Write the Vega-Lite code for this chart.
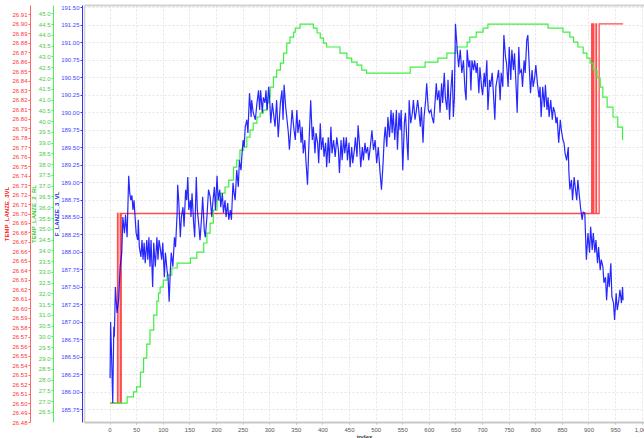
{
  "$schema": "https://vega.github.io/schema/vega-lite/v6.json",
  "autosize": {"type": "none"},
  "padding": {"left": 84, "top": 5, "right": 0, "bottom": 16},
  "width": 560,
  "height": 417,
  "background": "white",
  "config": {
    "view": {"stroke": null},
    "font": "Liberation Sans",
    "axis": {"labelFont": "Liberation Sans", "titleFont": "Liberation Sans", "labelFontSize": 6, "titleFontSize": 6, "titleFontWeight": "bold"}
  },
  "datasets": {
    "blue": [
      {"i":1,"v":186.2},{"i":2,"v":187.0},{"i":4,"v":186.46},{"i":6,"v":185.84},{"i":8,"v":186.93},{"i":9,"v":186.79},{"i":11,"v":187.5},{"i":14,"v":187.13},{"i":17,"v":187.31},{"i":19,"v":187.64},{"i":20,"v":187.79},{"i":23,"v":187.99},{"i":25,"v":188.5},{"i":28,"v":188.27},{"i":30,"v":188.53},{"i":33,"v":188.21},{"i":36,"v":189.09},{"i":38,"v":188.84},{"i":40,"v":188.74},{"i":42,"v":188.81},{"i":44,"v":188.6},{"i":46,"v":188.74},{"i":48,"v":188.5},{"i":50,"v":188.27},{"i":53,"v":188.17},{"i":54,"v":188.46},{"i":56,"v":188.07},{"i":59,"v":187.93},{"i":61,"v":188.17},{"i":63,"v":187.89},{"i":65,"v":188.13},{"i":67,"v":187.84},{"i":70,"v":188.17},{"i":72,"v":187.89},{"i":74,"v":188.21},{"i":76,"v":187.79},{"i":78,"v":188.17},{"i":81,"v":187.5},{"i":83,"v":188.13},{"i":86,"v":187.79},{"i":89,"v":188.21},{"i":91,"v":187.89},{"i":93,"v":188.17},{"i":95,"v":188.07},{"i":98,"v":187.89},{"i":100,"v":188.13},{"i":103,"v":187.64},{"i":105,"v":187.99},{"i":108,"v":187.74},{"i":110,"v":187.64},{"i":112,"v":187.29},{"i":114,"v":187.7},{"i":116,"v":187.99},{"i":119,"v":187.79},{"i":122,"v":188.21},{"i":124,"v":188.07},{"i":127,"v":188.56},{"i":128,"v":188.96},{"i":130,"v":188.74},{"i":133,"v":188.21},{"i":135,"v":188.5},{"i":138,"v":188.64},{"i":140,"v":188.36},{"i":143,"v":188.89},{"i":145,"v":188.74},{"i":147,"v":189.07},{"i":149,"v":188.6},{"i":152,"v":188.74},{"i":153,"v":188.5},{"i":155,"v":188.84},{"i":158,"v":188.41},{"i":160,"v":188.21},{"i":163,"v":189.07},{"i":165,"v":188.6},{"i":168,"v":188.36},{"i":170,"v":188.17},{"i":173,"v":188.5},{"i":175,"v":188.79},{"i":178,"v":188.31},{"i":180,"v":188.21},{"i":183,"v":188.5},{"i":186,"v":188.89},{"i":189,"v":188.79},{"i":192,"v":188.5},{"i":194,"v":188.7},{"i":197,"v":188.93},{"i":199,"v":188.6},{"i":202,"v":189.09},{"i":204,"v":188.74},{"i":207,"v":188.89},{"i":209,"v":188.64},{"i":212,"v":188.84},{"i":214,"v":188.56},{"i":217,"v":188.74},{"i":219,"v":188.5},{"i":222,"v":188.7},{"i":224,"v":188.46},{"i":227,"v":188.6},{"i":229,"v":188.46},{"i":232,"v":188.99},{"i":234,"v":188.84},{"i":236,"v":188.74},{"i":239,"v":189.17},{"i":242,"v":188.93},{"i":244,"v":189.31},{"i":247,"v":189.17},{"i":249,"v":189.41},{"i":251,"v":189.6},{"i":253,"v":189.5},{"i":255,"v":189.79},{"i":258,"v":189.89},{"i":260,"v":189.7},{"i":263,"v":190.27},{"i":266,"v":189.93},{"i":267,"v":190.17},{"i":270,"v":189.99},{"i":274,"v":189.89},{"i":277,"v":190.13},{"i":280,"v":190.31},{"i":282,"v":190.03},{"i":284,"v":190.31},{"i":287,"v":189.99},{"i":289,"v":190.21},{"i":292,"v":190.13},{"i":294,"v":190.31},{"i":296,"v":190.03},{"i":299,"v":190.36},{"i":301,"v":190.17},{"i":303,"v":189.84},{"i":306,"v":190.13},{"i":308,"v":189.99},{"i":311,"v":189.79},{"i":314,"v":190.17},{"i":317,"v":189.64},{"i":321,"v":190.13},{"i":324,"v":190.31},{"i":326,"v":189.89},{"i":328,"v":190.39},{"i":331,"v":190.07},{"i":333,"v":189.93},{"i":336,"v":189.7},{"i":338,"v":189.46},{"i":341,"v":189.79},{"i":343,"v":190.03},{"i":346,"v":189.79},{"i":349,"v":189.6},{"i":352,"v":190.03},{"i":354,"v":189.7},{"i":357,"v":189.89},{"i":360,"v":189.56},{"i":362,"v":189.79},{"i":364,"v":189.41},{"i":367,"v":189.6},{"i":369,"v":189.31},{"i":372,"v":188.96},{"i":374,"v":189.41},{"i":376,"v":189.79},{"i":378,"v":190.17},{"i":381,"v":189.6},{"i":383,"v":189.79},{"i":386,"v":189.41},{"i":388,"v":189.7},{"i":391,"v":189.56},{"i":393,"v":189.27},{"i":396,"v":189.84},{"i":398,"v":189.46},{"i":401,"v":189.64},{"i":403,"v":189.36},{"i":406,"v":189.56},{"i":408,"v":189.21},{"i":411,"v":189.64},{"i":413,"v":189.27},{"i":416,"v":189.79},{"i":418,"v":189.41},{"i":421,"v":189.6},{"i":424,"v":189.36},{"i":427,"v":189.64},{"i":430,"v":189.46},{"i":432,"v":189.13},{"i":435,"v":189.6},{"i":437,"v":189.31},{"i":440,"v":189.64},{"i":442,"v":189.41},{"i":445,"v":189.64},{"i":447,"v":189.31},{"i":450,"v":189.56},{"i":452,"v":189.21},{"i":455,"v":189.5},{"i":457,"v":189.27},{"i":460,"v":189.46},{"i":462,"v":189.64},{"i":465,"v":189.36},{"i":467,"v":189.81},{"i":470,"v":189.5},{"i":472,"v":189.21},{"i":475,"v":189.5},{"i":477,"v":189.31},{"i":480,"v":189.56},{"i":482,"v":189.41},{"i":485,"v":189.5},{"i":487,"v":189.31},{"i":490,"v":189.5},{"i":493,"v":189.74},{"i":496,"v":189.46},{"i":499,"v":189.6},{"i":502,"v":189.27},{"i":505,"v":189.5},{"i":508,"v":189.17},{"i":511,"v":188.89},{"i":514,"v":189.27},{"i":516,"v":189.6},{"i":518,"v":189.79},{"i":521,"v":189.5},{"i":523,"v":189.93},{"i":526,"v":189.64},{"i":529,"v":190.03},{"i":531,"v":189.7},{"i":533,"v":189.99},{"i":536,"v":189.6},{"i":539,"v":190.03},{"i":541,"v":189.46},{"i":544,"v":189.99},{"i":546,"v":189.74},{"i":548,"v":190.03},{"i":551,"v":189.17},{"i":554,"v":189.84},{"i":556,"v":189.99},{"i":559,"v":189.56},{"i":561,"v":189.31},{"i":563,"v":190.17},{"i":566,"v":189.84},{"i":569,"v":189.99},{"i":571,"v":190.17},{"i":574,"v":189.89},{"i":576,"v":189.99},{"i":579,"v":190.17},{"i":581,"v":190.03},{"i":584,"v":189.79},{"i":586,"v":190.07},{"i":589,"v":189.56},{"i":591,"v":189.93},{"i":594,"v":190.17},{"i":596,"v":190.41},{"i":599,"v":190.03},{"i":601,"v":189.99},{"i":604,"v":190.03},{"i":606,"v":189.93},{"i":609,"v":189.84},{"i":611,"v":190.07},{"i":614,"v":190.41},{"i":616,"v":190.17},{"i":619,"v":190.31},{"i":621,"v":189.99},{"i":624,"v":190.41},{"i":626,"v":190.13},{"i":629,"v":190.56},{"i":631,"v":190.21},{"i":634,"v":190.03},{"i":636,"v":190.46},{"i":639,"v":189.89},{"i":641,"v":190.27},{"i":644,"v":190.6},{"i":646,"v":189.93},{"i":648,"v":190.21},{"i":650,"v":191.26},{"i":653,"v":190.93},{"i":656,"v":190.64},{"i":659,"v":190.89},{"i":662,"v":190.56},{"i":665,"v":190.74},{"i":668,"v":190.31},{"i":670,"v":190.17},{"i":672,"v":190.89},{"i":675,"v":190.64},{"i":677,"v":190.74},{"i":679,"v":190.31},{"i":681,"v":190.74},{"i":684,"v":190.6},{"i":686,"v":190.74},{"i":689,"v":190.56},{"i":691,"v":190.7},{"i":694,"v":190.27},{"i":696,"v":190.64},{"i":699,"v":190.36},{"i":701,"v":190.24},{"i":704,"v":190.56},{"i":706,"v":190.36},{"i":709,"v":190.74},{"i":711,"v":190.03},{"i":714,"v":190.46},{"i":716,"v":190.36},{"i":719,"v":190.56},{"i":721,"v":190.31},{"i":724,"v":189.89},{"i":726,"v":190.36},{"i":729,"v":190.5},{"i":731,"v":190.6},{"i":734,"v":190.17},{"i":736,"v":190.56},{"i":739,"v":190.36},{"i":741,"v":191.1},{"i":744,"v":190.79},{"i":746,"v":190.7},{"i":749,"v":190.36},{"i":751,"v":190.93},{"i":754,"v":190.46},{"i":756,"v":190.89},{"i":759,"v":190.6},{"i":761,"v":190.84},{"i":764,"v":190.36},{"i":766,"v":189.99},{"i":769,"v":190.93},{"i":771,"v":190.56},{"i":774,"v":190.6},{"i":776,"v":190.36},{"i":779,"v":190.74},{"i":781,"v":190.56},{"i":784,"v":191.03},{"i":786,"v":191.1},{"i":789,"v":190.6},{"i":791,"v":190.27},{"i":794,"v":190.6},{"i":796,"v":190.36},{"i":799,"v":190.5},{"i":801,"v":190.67},{"i":804,"v":190.41},{"i":807,"v":190.21},{"i":809,"v":190.36},{"i":811,"v":189.93},{"i":814,"v":190.36},{"i":817,"v":190.07},{"i":819,"v":190.39},{"i":822,"v":190.03},{"i":824,"v":190.21},{"i":826,"v":189.93},{"i":829,"v":190.17},{"i":832,"v":189.89},{"i":834,"v":190.07},{"i":837,"v":189.99},{"i":839,"v":189.84},{"i":841,"v":189.93},{"i":844,"v":189.56},{"i":847,"v":189.89},{"i":849,"v":189.74},{"i":852,"v":189.6},{"i":854,"v":189.56},{"i":856,"v":189.41},{"i":859,"v":189.31},{"i":862,"v":189.5},{"i":863,"v":189.17},{"i":865,"v":188.89},{"i":868,"v":189.03},{"i":870,"v":188.74},{"i":873,"v":189.07},{"i":875,"v":188.93},{"i":878,"v":188.74},{"i":880,"v":189.03},{"i":883,"v":188.79},{"i":885,"v":188.64},{"i":888,"v":188.46},{"i":890,"v":188.57},{"i":893,"v":188.56},{"i":896,"v":187.89},{"i":899,"v":188.27},{"i":902,"v":187.99},{"i":904,"v":188.36},{"i":907,"v":188.03},{"i":909,"v":188.27},{"i":912,"v":187.99},{"i":914,"v":188.17},{"i":917,"v":187.84},{"i":919,"v":188.07},{"i":922,"v":187.74},{"i":924,"v":187.89},{"i":927,"v":187.79},{"i":929,"v":187.56},{"i":932,"v":187.64},{"i":934,"v":187.31},{"i":937,"v":187.7},{"i":939,"v":187.5},{"i":942,"v":187.84},{"i":944,"v":187.36},{"i":947,"v":187.27},{"i":949,"v":187.03},{"i":952,"v":187.41},{"i":954,"v":187.17},{"i":957,"v":187.31},{"i":959,"v":187.46},{"i":962,"v":187.27},{"i":964,"v":187.5},{"i":965,"v":187.31}
    ],
    "green": [
      {"i":1,"v":26.91},{"i":33,"v":27.2},{"i":45,"v":27.43},{"i":51,"v":27.66},{"i":58,"v":28.35},{"i":64,"v":29.0},{"i":70,"v":29.65},{"i":76,"v":30.3},{"i":83,"v":30.99},{"i":89,"v":31.64},{"i":92,"v":32.01},{"i":95,"v":32.29},{"i":101,"v":32.62},{"i":108,"v":32.85},{"i":117,"v":33.18},{"i":127,"v":33.41},{"i":152,"v":33.64},{"i":164,"v":33.92},{"i":177,"v":34.34},{"i":183,"v":34.8},{"i":189,"v":35.26},{"i":195,"v":35.87},{"i":202,"v":36.33},{"i":208,"v":36.66},{"i":217,"v":36.94},{"i":224,"v":37.26},{"i":233,"v":37.86},{"i":239,"v":38.19},{"i":245,"v":38.65},{"i":252,"v":38.79},{"i":258,"v":39.26},{"i":264,"v":39.58},{"i":270,"v":39.91},{"i":277,"v":40.19},{"i":283,"v":40.37},{"i":289,"v":40.51},{"i":296,"v":40.84},{"i":299,"v":41.11},{"i":302,"v":41.58},{"i":308,"v":42.04},{"i":314,"v":42.37},{"i":321,"v":42.69},{"i":327,"v":43.16},{"i":333,"v":43.62},{"i":339,"v":43.9},{"i":346,"v":44.13},{"i":349,"v":44.32},{"i":358,"v":44.5},{"i":383,"v":44.32},{"i":390,"v":44.09},{"i":396,"v":43.85},{"i":402,"v":43.62},{"i":408,"v":43.44},{"i":433,"v":43.16},{"i":446,"v":42.92},{"i":455,"v":42.74},{"i":465,"v":42.6},{"i":474,"v":42.37},{"i":483,"v":42.23},{"i":565,"v":42.51},{"i":593,"v":42.74},{"i":617,"v":42.92},{"i":634,"v":43.16},{"i":651,"v":43.44},{"i":672,"v":43.67},{"i":677,"v":43.9},{"i":689,"v":44.13},{"i":702,"v":44.32},{"i":711,"v":44.5},{"i":824,"v":44.32},{"i":852,"v":44.13},{"i":865,"v":43.9},{"i":872,"v":43.67},{"i":880,"v":43.44},{"i":890,"v":43.16},{"i":897,"v":42.92},{"i":903,"v":42.69},{"i":909,"v":42.37},{"i":916,"v":42.0},{"i":922,"v":41.58},{"i":927,"v":41.11},{"i":935,"v":40.65},{"i":946,"v":40.19},{"i":955,"v":39.72},{"i":964,"v":39.12}
    ],
    "red": [
      {"i":1,"v":26.5},{"i":15,"v":26.7},{"i":16,"v":26.5},{"i":20,"v":26.7},{"i":21,"v":26.5},{"i":22,"v":26.7},{"i":906,"v":26.9},{"i":907,"v":26.7},{"i":909,"v":26.9},{"i":910,"v":26.7},{"i":914,"v":26.9},{"i":915,"v":26.7},{"i":920,"v":26.9},{"i":965,"v":26.9}
    ]
  },
  "resolve": {"scale": {"y": "independent"}, "axis": {"x": "independent", "y": "independent"}},
  "layer": [
    {
      "data": {"name": "blue"},
      "mark": {"type": "line", "strokeOpacity": 0},
      "encoding": {
        "x": {"field": "i", "type": "quantitative", "scale": {"domain": [-48, 1004.3], "nice": false, "zero": false},
          "axis": {"orient": "top", "labels": false, "ticks": false, "grid": false, "title": null, "domainColor": "#d2d2d2", "domainWidth": 2}},
        "y": {"field": "v", "type": "quantitative", "scale": {"domain": [185.57, 191.53], "nice": false, "zero": false},
          "axis": {"orient": "left", "offset": 0, "labels": false, "ticks": false, "title": null, "domainColor": "#d2d2d2", "domainWidth": 1.5, "grid": true, "gridColor": "#e4e4e4", "gridDash": [2, 2], "gridWidth": 1,
            "values": [185.75,186,186.25,186.5,186.75,187,187.25,187.5,187.75,188,188.25,188.5,188.75,189,189.25,189.5,189.75,190,190.25,190.5,190.75,191,191.25,191.5]}}
      }
    },
    {
      "data": {"name": "red"},
      "mark": {"type": "line", "interpolate": "step-after", "color": "#ff0000", "strokeWidth": 1.3, "opacity": 0.7},
      "encoding": {
        "x": {"field": "i", "type": "quantitative", "scale": {"domain": [-48, 1004.3], "nice": false, "zero": false},
          "axis": {"orient": "bottom", "values": [0,50,100,150,200,250,300,350,400,450,500,550,600,650,700,750,800,850,900,950,1000],
            "grid": true, "gridColor": "#e4e4e4", "gridDash": [2, 2], "domainColor": "#c8c8c8", "domainWidth": 2,
            "tickColor": "#b0b0b0", "tickSize": 2, "labelColor": "#555555", "labelPadding": 2, "labelFlush": false, "labelOverlap": false,
            "title": "index", "titleColor": "#333333", "titlePadding": 1}},
        "y": {"field": "v", "type": "quantitative", "scale": {"domain": [26.48, 26.92], "nice": false, "zero": false},
          "axis": {"orient": "left", "offset": 54, "format": ".2f", "labelColor": "#ff3333", "domainColor": "#ff6666", "tickColor": "#ff6666", "tickSize": 2, "labelPadding": 1, "labelOverlap": false, "labelFlush": false,
            "title": "TEMP_LANZE_3VL", "titleColor": "#ff2020", "titlePadding": 2, "grid": false,
            "values": [26.48,26.49,26.5,26.51,26.52,26.53,26.54,26.55,26.56,26.57,26.58,26.59,26.6,26.61,26.62,26.63,26.64,26.65,26.66,26.67,26.68,26.69,26.7,26.71,26.72,26.73,26.74,26.75,26.76,26.77,26.78,26.79,26.8,26.81,26.82,26.83,26.84,26.85,26.86,26.87,26.88,26.89,26.9,26.91]}}
      }
    },
    {
      "data": {"name": "green"},
      "mark": {"type": "line", "interpolate": "step-after", "color": "#3fef3f", "strokeWidth": 1.2},
      "encoding": {
        "x": {"field": "i", "type": "quantitative", "scale": {"domain": [-48, 1004.3], "nice": false, "zero": false}, "axis": null},
        "y": {"field": "v", "type": "quantitative", "scale": {"domain": [26.03, 45.39], "nice": false, "zero": false},
          "axis": {"orient": "left", "offset": 31, "format": ".1f", "labelColor": "#44cc44", "domainColor": "#55ee55", "tickColor": "#55ee55", "tickSize": 2, "labelPadding": 1, "labelOverlap": false, "labelFlush": false,
            "title": "TEMP_LANZE_2_RL", "titleColor": "#33cc33", "titlePadding": 2, "grid": false,
            "values": [26.5,27,27.5,28,28.5,29,29.5,30,30.5,31,31.5,32,32.5,33,33.5,34,34.5,35,35.5,36,36.5,37,37.5,38,38.5,39,39.5,40,40.5,41,41.5,42,42.5,43,43.5,44,44.5,45]}}
      }
    },
    {
      "data": {"name": "blue"},
      "mark": {"type": "line", "color": "#0000ff", "strokeWidth": 1.2, "opacity": 0.85},
      "encoding": {
        "x": {"field": "i", "type": "quantitative", "scale": {"domain": [-48, 1004.3], "nice": false, "zero": false}, "axis": null},
        "y": {"field": "v", "type": "quantitative", "scale": {"domain": [185.57, 191.53], "nice": false, "zero": false},
          "axis": {"orient": "left", "offset": 2, "format": ".2f", "labelColor": "#4444ff", "domainColor": "#3333ff", "tickColor": "#3333ff", "tickSize": 2, "labelPadding": 1, "labelOverlap": false, "labelFlush": false,
            "title": "F_LANZE_3_VL", "titleColor": "#2222ee", "titlePadding": 1, "grid": false,
            "values": [185.75,186,186.25,186.5,186.75,187,187.25,187.5,187.75,188,188.25,188.5,188.75,189,189.25,189.5,189.75,190,190.25,190.5,190.75,191,191.25,191.5]}}
      }
    }
  ]
}
